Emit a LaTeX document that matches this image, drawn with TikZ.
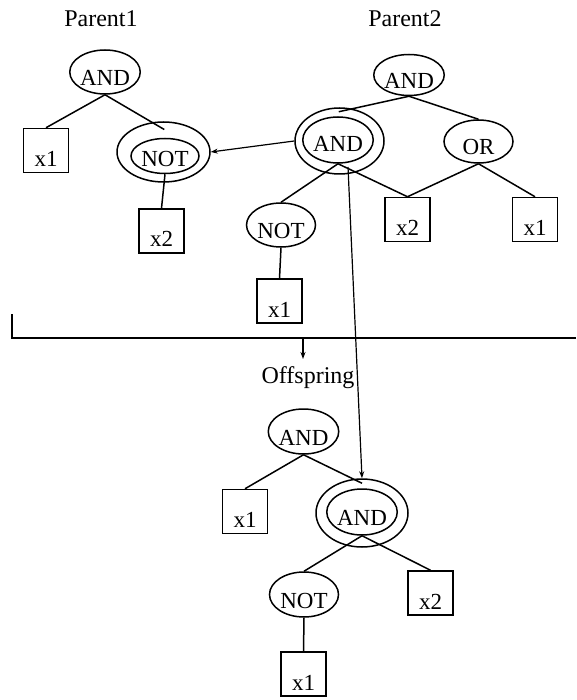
\documentclass[tikz,border=0pt]{standalone}
\usepackage{fontspec}
\setmainfont{Liberation Serif}
\usetikzlibrary{arrows.meta,calc,shapes.geometric}
\begin{document}
\begin{tikzpicture}[x=1pt,y=-1pt,
  every node/.style={font=\fontsize{23}{25}\selectfont},
  lw/.style={line width=1.5pt},
  oval/.style={ellipse,draw,lw,inner sep=0pt,minimum width=69pt,minimum height=44pt,text height=27pt,text depth=0pt},
  ring/.style={ellipse,draw,lw,inner sep=0pt},
  leaf/.style={rectangle,draw,lw,inner sep=0pt,minimum width=45pt,text height=38pt,text depth=6pt},
  edge/.style={lw},
  arr/.style={line width=1.2pt,-{Stealth[length=7pt,width=5pt]}},
  title/.style={inner sep=0pt,anchor=base,font=\fontsize{24}{26}\selectfont}]
\useasboundingbox (0,0) rectangle (576,700);
% titles
\node[title] (t1) at (101,27) {Parent1};
\node[title] (t2) at (405,27) {Parent2};
\node[title] (t3) at (308,383) {Offspring};
% Parent1
\node[oval] (p1and) at (105,72) {AND};
\node[leaf] (p1x1) at (46,150.5) {x1};
\node[ring,minimum width=93pt,minimum height=60pt] (p1noto) at (163.5,152) {};
\node[oval,minimum width=68pt,minimum height=35pt,text height=22pt] (p1not) at (165,156) {NOT};
\node[leaf] (p1x2) at (161.5,231) {x2};
\draw[edge] (p1and.south) -- (p1x1.north);
\draw[edge] (p1and.south) -- ($(p1not.north)!0.5!(p1noto.north)$);
\draw[edge] (p1not.south) -- (p1x2.north);
% Parent2
\node[oval,minimum height=41pt] (p2and) at (409,75) {AND};
\node[ring,minimum width=89pt,minimum height=66pt] (p2mido) at (339.5,141) {};
\node[oval,minimum width=70pt,minimum height=46pt,text height=24pt] (p2mid) at (338,140) {AND};
\node[oval,minimum height=43pt] (p2or) at (478.5,141.5) {OR};
\node[oval] (p2not) at (281,225) {NOT};
\node[leaf] (p2x2) at (407.5,219.5) {x2};
\node[leaf] (p2x1r) at (535,219.5) {x1};
\node[leaf] (p2x1) at (279.5,301) {x1};
\draw[edge] (p2and.south) -- ($(p2mid.north)!0.5!(p2mido.north)$);
\draw[edge] (p2and.south) -- (p2or.north);
\draw[edge] (p2mid.south) -- (p2not.north);
\draw[edge] (p2mid.south) -- (p2x2.north);
\draw[edge] (p2or.south) -- (p2x2.north);
\draw[edge] (p2or.south) -- (p2x1r.north);
\draw[edge] (p2not.south) -- (p2x1.north);
% Offspring
\node[oval,minimum height=45pt] (oand) at (303.5,431.5) {AND};
\node[leaf] (ox1) at (245,511.5) {x1};
\node[ring,minimum width=92pt,minimum height=68pt] (omido) at (362,513) {};
\node[oval,minimum width=70pt,minimum height=46pt] (omid) at (362,512) {AND};
\node[oval,minimum height=45pt] (onot) at (304,594.5) {NOT};
\node[leaf] (ox2) at (430.5,593) {x2};
\node[leaf] (ox1b) at (303.5,674) {x1};
\draw[edge] (oand.south) -- (ox1.north);
\draw[edge] (oand.south) -- ($(omid.north)!0.5!(omido.north)$);
\draw[edge] (omid.south) -- (onot.north);
\draw[edge] (omid.south) -- (ox2.north);
\draw[edge] (onot.south) -- (ox1b.north);
% bracket and arrows
\coordinate (bl) at (12,314);
\coordinate (br) at (576,338);
\coordinate (sa) at (303,338);
\coordinate (sb) at (303,359);
\coordinate (la) at (348,167);
\draw[edge] (bl) |- (br);
\draw[arr] (sa) -- (sb);
\draw[arr] (p2mido.west) -- (p1noto.east);
\draw[arr] (la) -- (omido.north);
\end{tikzpicture}
\end{document}
